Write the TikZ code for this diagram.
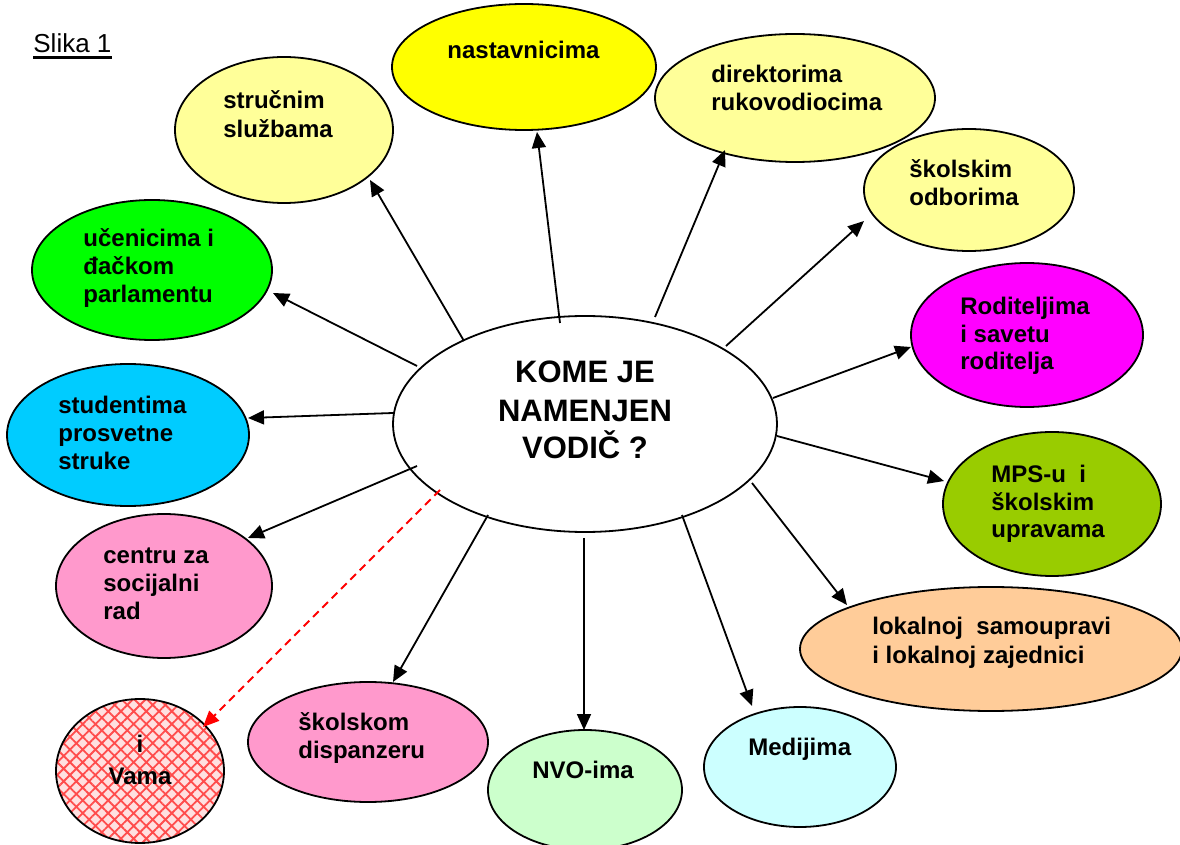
\documentclass[tikz,border=0pt]{standalone}
\usepackage{fontspec}
\setmainfont{Liberation Sans}
\usetikzlibrary{shapes.geometric,arrows.meta,patterns.meta}
\definecolor{lyel}{HTML}{FFFF99}
\definecolor{yel}{HTML}{FFFF00}
\definecolor{mag}{HTML}{FF00FF}
\definecolor{olive2}{HTML}{99CC00}
\definecolor{peach}{HTML}{FFCC99}
\definecolor{lcyan}{HTML}{CCFFFF}
\definecolor{lgreen}{HTML}{CCFFCC}
\definecolor{pink2}{HTML}{FF99CC}
\definecolor{sky}{HTML}{00CCFF}
\definecolor{green2}{HTML}{00FF00}
\tikzset{
  bub/.style={ellipse, draw, line width=0.9pt, inner sep=0pt},
  lbl/.style={anchor=base west, inner sep=0pt, font=\bfseries\fontsize{12}{14}\selectfont},
  ctr/.style={anchor=base, inner sep=0pt, font=\bfseries\fontsize{15.5}{19}\selectfont},
  arr/.style={line width=0.9pt, -{Triangle[length=8pt,width=7pt]}},
  redarr/.style={line width=0.9pt, red, dash pattern=on 4pt off 2.6pt, -{Triangle[length=8pt,width=7pt]}},
}
\begin{document}
\begin{tikzpicture}[x=0.5pt,y=-0.5pt]
\useasboundingbox (0,0) rectangle (1180,845);
% ellipses
\node[bub, fill=white, minimum width=192pt, minimum height=108pt] (c) at (585,424) {};
\node[bub, fill=lyel, minimum width=109pt, minimum height=73pt] (str) at (284,130) {};
\node[bub, fill=yel, minimum width=132pt, minimum height=63pt] (nas) at (524,67) {};
\node[bub, fill=lyel, minimum width=140pt, minimum height=64pt] (dir) at (795,98) {};
\node[bub, fill=lyel, minimum width=105pt, minimum height=61pt] (odb) at (969,190) {};
\node[bub, fill=mag, minimum width=116pt, minimum height=72pt] (rod) at (1027,335) {};
\node[bub, fill=olive2, minimum width=109pt, minimum height=72pt] (mps) at (1052,504) {};
\node[bub, fill=peach, minimum width=191pt, minimum height=62pt] (lok) at (991,649) {};
\node[bub, fill=lcyan, minimum width=96pt, minimum height=60pt] (med) at (800,767) {};
\node[bub, fill=lgreen, minimum width=97pt, minimum height=60pt] (nvo) at (585,790) {};
\node[bub, fill=pink2, minimum width=120pt, minimum height=60pt] (dis) at (368,742) {};
\node[bub, preaction={fill=red!12}, pattern={Hatch[angle=45,distance=4.5pt,line width=0.9pt]}, pattern color=red!70, minimum width=84pt, minimum height=72pt] (vam) at (140,771) {};
\node[bub, fill=pink2, minimum width=108pt, minimum height=72pt] (cen) at (164,586) {};
\node[bub, fill=sky, minimum width=121pt, minimum height=71pt] (stu) at (128,435) {};
\node[bub, fill=green2, minimum width=120pt, minimum height=70pt] (uce) at (152,270) {};
% connector ends
\coordinate (s1) at (464,341); \coordinate (t1) at (370,180);
\coordinate (s2) at (560,323); \coordinate (t2) at (537,132);
\coordinate (s3) at (655,317); \coordinate (t3) at (725,150);
\coordinate (s4) at (726,346); \coordinate (t4) at (864,221);
\coordinate (s5) at (773,398); \coordinate (t5) at (911,347);
\coordinate (s6) at (777,436); \coordinate (t6) at (944,481);
\coordinate (s7) at (752,483); \coordinate (t7) at (847,605);
\coordinate (s8) at (682,515); \coordinate (t8) at (752,706);
\coordinate (s9) at (584,538); \coordinate (t9) at (584,730);
\coordinate (s10) at (488,515); \coordinate (t10) at (393,682);
\coordinate (s11) at (440,490); \coordinate (t11) at (203,727);
\coordinate (s12) at (417,466); \coordinate (t12) at (248,538);
\coordinate (s13) at (393,413); \coordinate (t13) at (248,418);
\coordinate (s14) at (417,366); \coordinate (t14) at (273,293);
\foreach \i in {1,...,10,12,13,14} { \draw[arr] (s\i) -- (t\i); }
\draw[redarr] (s11) -- (t11);
% texts
\node[anchor=base west, inner sep=0pt, font=\fontsize{13}{15}\selectfont] (slika) at (33,53) {Slika 1};
\draw[line width=1.4pt] ([yshift=-2.2pt]slika.base west) -- ([yshift=-2.2pt]slika.base east);
\node[ctr] (c1) at (585,383) {KOME JE};
\node[ctr] (c2) at (585,422) {NAMENJEN};
\node[ctr] (c3) at (585,459) {VODIČ ?};
\node[lbl] (str1) at (223,109) {stručnim};
\node[lbl] (str2) at (223,138) {službama};
\node[lbl] (nas1) at (447,59) {nastavnicima};
\node[lbl] (dir1) at (711,83) {direktorima};
\node[lbl] (dir2) at (711,111) {rukovodiocima};
\node[lbl] (odb1) at (909,178) {školskim};
\node[lbl] (odb2) at (909,206) {odborima};
\node[lbl] (rod1) at (960,315) {Roditeljima};
\node[lbl] (rod2) at (960,343) {i savetu};
\node[lbl] (rod3) at (960,370) {roditelja};
\node[lbl] (mps1) at (991,483) {MPS-u\ \ i};
\node[lbl] (mps2) at (991,511) {školskim};
\node[lbl] (mps3) at (991,538) {upravama};
\node[lbl] (lok1) at (872,635) {lokalnoj\ \ samoupravi};
\node[lbl] (lok2) at (872,663) {i lokalnoj zajednici};
\node[lbl] (med1) at (748,755) {Medijima};
\node[lbl] (nvo1) at (532,778) {NVO-ima};
\node[lbl] (dis1) at (298,730) {školskom};
\node[lbl] (dis2) at (298,758) {dispanzeru};
\node[lbl, anchor=base] (vam1) at (140,753) {i};
\node[lbl, anchor=base] (vam2) at (140,784) {Vama};
\node[lbl] (cen1) at (103,564) {centru za};
\node[lbl] (cen2) at (103,592) {socijalni};
\node[lbl] (cen3) at (103,620) {rad};
\node[lbl] (stu1) at (58,414) {studentima};
\node[lbl] (stu2) at (58,442) {prosvetne};
\node[lbl] (stu3) at (58,470) {struke};
\node[lbl] (uce1) at (83,247) {učenicima i};
\node[lbl] (uce2) at (83,275) {đačkom};
\node[lbl] (uce3) at (83,303) {parlamentu};
\end{tikzpicture}
\end{document}
